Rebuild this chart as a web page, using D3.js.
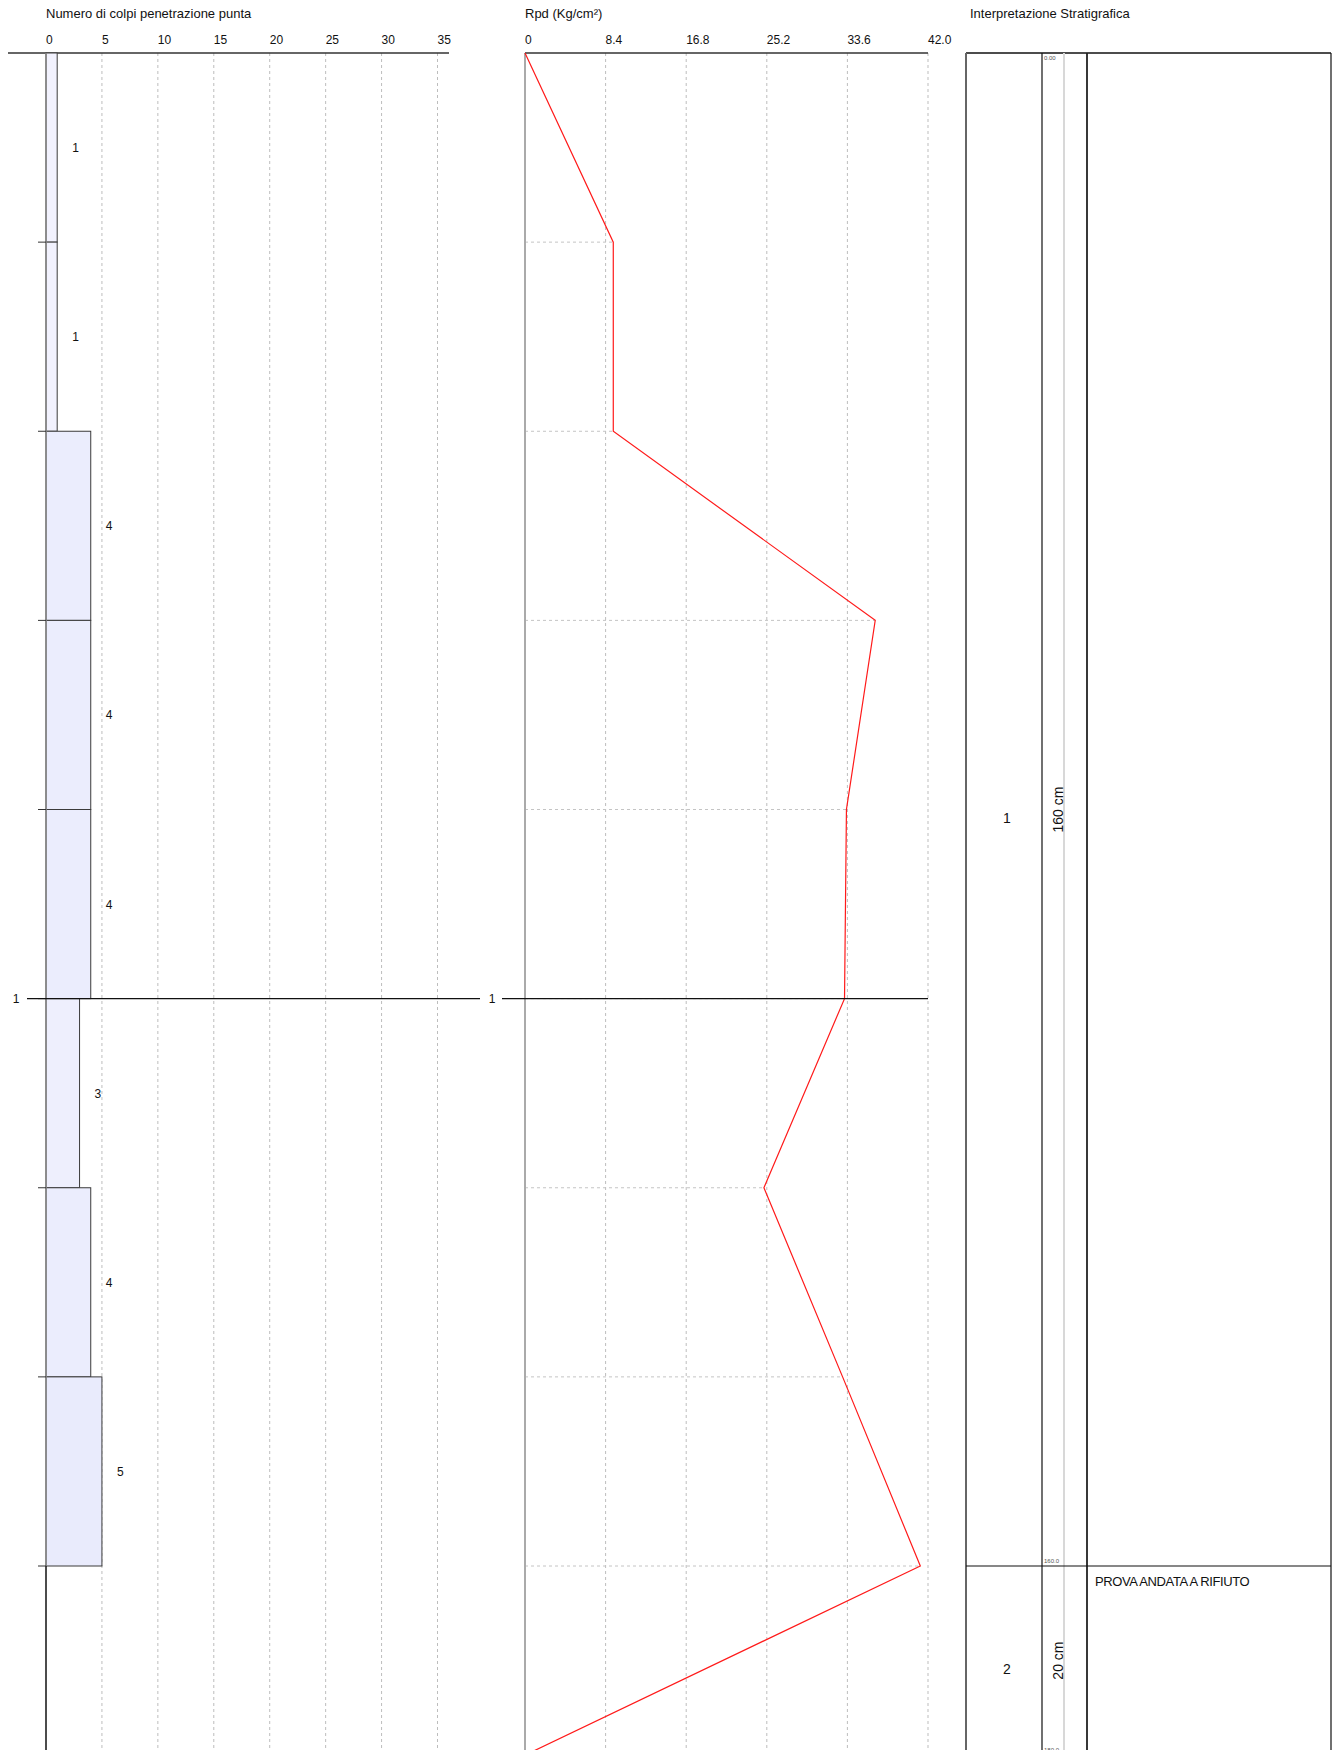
<!DOCTYPE html>
<html>
<head>
<meta charset="utf-8">
<script src="https://cdn.jsdelivr.net/npm/d3@7"></script>
<style>
  html, body { margin: 0; padding: 0; background: #fff; }
  svg { display: block; font-family: "Liberation Sans", Arial, Helvetica, sans-serif; }
</style>
</head>
<body>
<svg id="chart" width="1336" height="1750"></svg>
<script>
// ---------------- DATA ----------------
const rowTops = [0, 0.2, 0.4, 0.6, 0.8, 1.0, 1.2, 1.4];      // m
const rowStep = 0.2;                                          // m
const blows = [1, 1, 4, 4, 4, 3, 4, 5];                       // N colpi per 20 cm
const blowTicks = [0, 5, 10, 15, 20, 25, 30, 35];

const rpdDepths = [0, 0.2, 0.4, 0.6, 0.8, 1.0, 1.2, 1.4, 1.6, 1.8];
const rpdValues = [0, 9.2, 9.2, 36.5, 33.5, 33.3, 24.9, 33.1, 41.2, 0];
const rpdTicks = [0, 8.4, 16.8, 25.2, 33.6, 42.0];
const rpdTickLabels = ["0", "8.4", "16.8", "25.2", "33.6", "42.0"];

const meterMarks = [1];

const layerIds = ["1", "2"];
const layerTops = [0, 1.6];
const layerBottoms = [1.6, 1.8];
const layerThick = ["160 cm", "20 cm"];
const layerDesc = ["", "PROVA ANDATA A RIFIUTO"];
const depthLabels = ["0.00", "160.0", "180.0"];
const depthLabelAt = [0, 1.6, 1.8];

const titles = ["Numero di colpi penetrazione punta", "Rpd (Kg/cm²)", "Interpretazione Stratigrafica"];

// ---------------- SCALES ----------------
const svg = d3.select("#chart");
const H = 1750;
const topY = 53;
const y = d3.scaleLinear().domain([0, 1.6]).range([topY, 1566]);

const xB = d3.scaleLinear().domain([0, 35]).range([46, 437.5]);
const xR = d3.scaleLinear().domain([0, 42]).range([525, 928]);
const fillScale = d3.scaleLinear().domain([1, 5]).range(["#f2f2fe", "#e9ebfc"]);

// ---------------- TITLES ----------------
const titleX = [46, 525, 970];
svg.selectAll("text.title").data(titles).join("text")
  .attr("class", "title")
  .attr("x", (d, i) => titleX[i]).attr("y", 18)
  .attr("font-size", 13).attr("fill", "#111")
  .text(d => d);

// ---------------- PANEL 1: blows ----------------
const g1 = svg.append("g");
g1.selectAll("line.vg").data(blowTicks.filter(d => d > 0)).join("line")
  .attr("class", "vg")
  .attr("x1", d => xB(d)).attr("x2", d => xB(d))
  .attr("y1", topY).attr("y2", H)
  .attr("stroke", "#bdbdbd").attr("stroke-dasharray", "3,3").attr("stroke-width", 1);
g1.selectAll("text.tl").data(blowTicks).join("text")
  .attr("class", "tl")
  .attr("x", d => xB(d)).attr("y", 44)
  .attr("font-size", 12).attr("fill", "#111")
  .text(d => d);
g1.append("line").attr("x1", 8).attr("x2", 449).attr("y1", topY).attr("y2", topY)
  .attr("stroke", "#333").attr("stroke-width", 1.5);
g1.selectAll("rect.bar").data(blows).join("rect")
  .attr("class", "bar")
  .attr("x", xB(0))
  .attr("y", (d, i) => y(rowTops[i]))
  .attr("width", d => xB(d) - xB(0))
  .attr("height", y(rowStep) - y(0))
  .attr("fill", d => fillScale(d))
  .attr("stroke", "#3a3a3a").attr("stroke-width", 1);
g1.append("line").attr("x1", xB(0)).attr("x2", xB(0)).attr("y1", topY).attr("y2", y(1.6))
  .attr("stroke", "#888").attr("stroke-width", 1.5);
g1.append("line").attr("x1", xB(0)).attr("x2", xB(0)).attr("y1", y(1.6)).attr("y2", H)
  .attr("stroke", "#111").attr("stroke-width", 1.5);
g1.selectAll("line.rt").data(rowTops.slice(1).concat([1.6])).join("line")
  .attr("class", "rt")
  .attr("x1", 38).attr("x2", xB(0))
  .attr("y1", d => y(d)).attr("y2", d => y(d))
  .attr("stroke", "#333").attr("stroke-width", 1);
g1.selectAll("text.bl").data(blows).join("text")
  .attr("class", "bl")
  .attr("x", d => xB(d) + 15)
  .attr("y", (d, i) => y(rowTops[i] + rowStep / 2) + 4.5)
  .attr("font-size", 12).attr("fill", "#111")
  .text(d => d);

// ---------------- PANEL 2: Rpd ----------------
const g2 = svg.append("g");
g2.selectAll("line.vg").data(rpdTicks.filter(d => d > 0)).join("line")
  .attr("class", "vg")
  .attr("x1", d => xR(d)).attr("x2", d => xR(d))
  .attr("y1", topY).attr("y2", H)
  .attr("stroke", "#bdbdbd").attr("stroke-dasharray", "3,3").attr("stroke-width", 1);
g2.selectAll("text.tl").data(rpdTicks).join("text")
  .attr("class", "tl")
  .attr("x", d => xR(d)).attr("y", 44)
  .attr("font-size", 12).attr("fill", "#111")
  .text((d, i) => rpdTickLabels[i]);
const pts = rpdDepths.map((d, i) => ({ d, v: rpdValues[i] }));
g2.selectAll("line.hg").data(pts.filter(p => p.d > 0 && p.d < 1.7)).join("line")
  .attr("class", "hg")
  .attr("x1", xR(0)).attr("x2", p => xR(p.v))
  .attr("y1", p => y(p.d)).attr("y2", p => y(p.d))
  .attr("stroke", "#c4c4c4").attr("stroke-dasharray", "3,3").attr("stroke-width", 1);
g2.append("line").attr("x1", xR(0)).attr("x2", xR(0)).attr("y1", topY).attr("y2", H)
  .attr("stroke", "#aaa").attr("stroke-width", 2);
g2.append("line").attr("x1", xR(0)).attr("x2", xR(42)).attr("y1", topY).attr("y2", topY)
  .attr("stroke", "#333").attr("stroke-width", 1.5);
g2.append("path").datum(pts)
  .attr("d", d3.line().x(p => xR(p.v)).y(p => y(p.d)))
  .attr("fill", "none").attr("stroke", "#ff1a1a").attr("stroke-width", 1.2);

// ---------------- meter marks ----------------
meterMarks.forEach(m => {
  svg.append("text").attr("x", 16).attr("y", y(m) + 4.5).attr("text-anchor", "middle")
    .attr("font-size", 12).attr("fill", "#111").text(m);
  svg.append("line").attr("x1", 27).attr("x2", 480).attr("y1", y(m)).attr("y2", y(m))
    .attr("stroke", "#111").attr("stroke-width", 1.2);
  svg.append("text").attr("x", 492).attr("y", y(m) + 4.5).attr("text-anchor", "middle")
    .attr("font-size", 12).attr("fill", "#111").text(m);
  svg.append("line").attr("x1", 502).attr("x2", xR(42)).attr("y1", y(m)).attr("y2", y(m))
    .attr("stroke", "#111").attr("stroke-width", 1.2);
});

// ---------------- PANEL 3: stratigraphy ----------------
const g3 = svg.append("g");
const c0 = 966, c1 = 1042, c2 = 1064, c3 = 1087, c4 = 1331;
g3.append("line").attr("x1", c0).attr("x2", c4).attr("y1", topY).attr("y2", topY)
  .attr("stroke", "#111").attr("stroke-width", 1.5);
g3.append("line").attr("x1", c0).attr("x2", c0).attr("y1", topY).attr("y2", H)
  .attr("stroke", "#666").attr("stroke-width", 2);
g3.append("line").attr("x1", c1).attr("x2", c1).attr("y1", topY).attr("y2", H)
  .attr("stroke", "#111").attr("stroke-width", 1.2);
g3.append("line").attr("x1", c2).attr("x2", c2).attr("y1", topY).attr("y2", H)
  .attr("stroke", "#d8d8d8").attr("stroke-width", 2);
g3.append("line").attr("x1", c3).attr("x2", c3).attr("y1", topY).attr("y2", H)
  .attr("stroke", "#222").attr("stroke-width", 1.8);
g3.append("line").attr("x1", c4).attr("x2", c4).attr("y1", topY).attr("y2", H)
  .attr("stroke", "#111").attr("stroke-width", 1.2);
g3.selectAll("line.lb").data(layerBottoms.slice(0, -1)).join("line")
  .attr("class", "lb")
  .attr("x1", c0).attr("x2", c4).attr("y1", d => y(d)).attr("y2", d => y(d))
  .attr("stroke", "#111").attr("stroke-width", 1.2);
g3.selectAll("text.lid").data(layerIds).join("text")
  .attr("class", "lid")
  .attr("x", 1007).attr("y", (d, i) => (y(layerTops[i]) + y(layerBottoms[i])) / 2 + 13)
  .attr("text-anchor", "middle").attr("font-size", 14).attr("fill", "#111")
  .text(d => d);
g3.selectAll("text.th").data(layerThick).join("text")
  .attr("class", "th")
  .attr("transform", (d, i) => `translate(1063,${(y(layerTops[i]) + y(layerBottoms[i])) / 2}) rotate(-90)`)
  .attr("text-anchor", "middle").attr("font-size", 14).attr("fill", "#111")
  .text(d => d);
g3.selectAll("text.dl").data(depthLabels).join("text")
  .attr("class", "dl")
  .attr("x", 1044)
  .attr("y", (d, i) => depthLabelAt[i] === 0 ? y(0) + 7 : y(depthLabelAt[i]) - 3)
  .attr("font-size", 6).attr("fill", "#555")
  .text(d => d);
g3.selectAll("text.desc").data(layerDesc).join("text")
  .attr("class", "desc")
  .attr("x", 1095).attr("y", (d, i) => y(layerTops[i]) + 20)
  .attr("font-size", 13).attr("letter-spacing", "-0.4").attr("fill", "#111")
  .text(d => d);
</script>
</body>
</html>
